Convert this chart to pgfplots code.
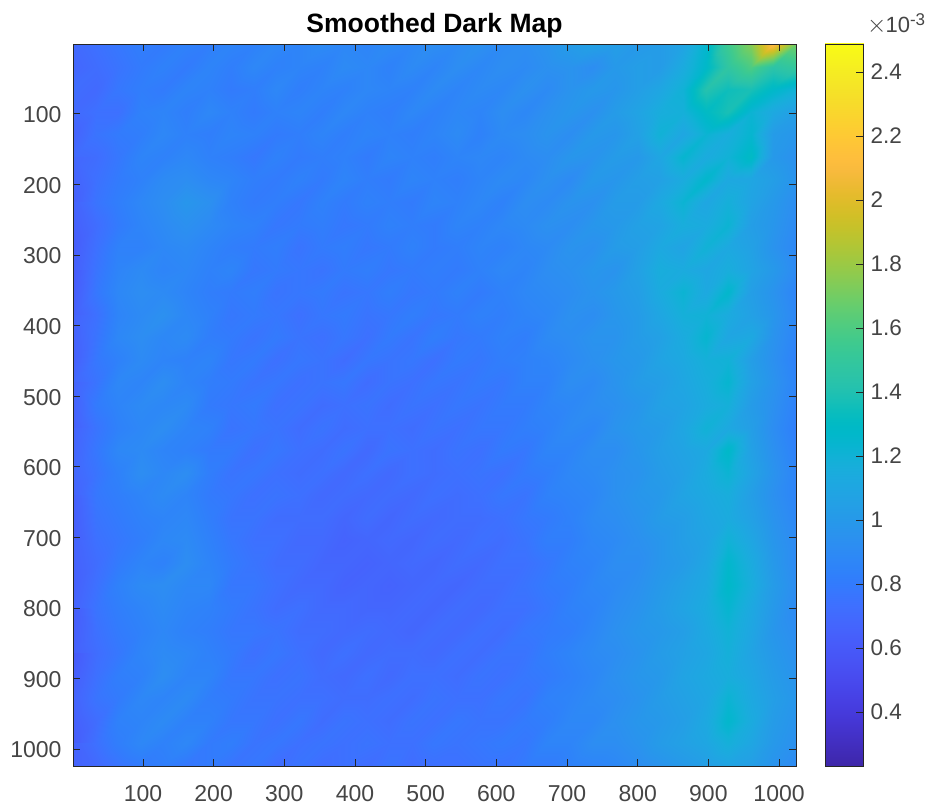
\documentclass[border=0pt]{standalone}
\usepackage{fontspec}
\setmainfont{Liberation Sans}
\usepackage{pgfplots}
\pgfplotsset{compat=1.18}
\definecolor{axc}{rgb}{0.15,0.15,0.15}
\definecolor{txc}{rgb}{0.27,0.27,0.27}
\pgfplotsset{colormap={parula}{
rgb=(0.2422,0.1504,0.6603) rgb=(0.2504,0.1650,0.7076) rgb=(0.2578,0.1818,0.7511) rgb=(0.2647,0.1978,0.7952)
rgb=(0.2706,0.2147,0.8364) rgb=(0.2751,0.2342,0.8710) rgb=(0.2783,0.2559,0.8991) rgb=(0.2803,0.2782,0.9221)
rgb=(0.2813,0.3006,0.9414) rgb=(0.2810,0.3228,0.9579) rgb=(0.2795,0.3447,0.9717) rgb=(0.2760,0.3667,0.9829)
rgb=(0.2699,0.3892,0.9906) rgb=(0.2602,0.4123,0.9952) rgb=(0.2440,0.4358,0.9988) rgb=(0.2206,0.4603,0.9973)
rgb=(0.1963,0.4847,0.9892) rgb=(0.1834,0.5074,0.9798) rgb=(0.1786,0.5289,0.9682) rgb=(0.1764,0.5499,0.9520)
rgb=(0.1687,0.5703,0.9359) rgb=(0.1540,0.5902,0.9218) rgb=(0.1460,0.6091,0.9079) rgb=(0.1380,0.6276,0.8973)
rgb=(0.1248,0.6459,0.8883) rgb=(0.1113,0.6635,0.8763) rgb=(0.0952,0.6798,0.8598) rgb=(0.0689,0.6948,0.8394)
rgb=(0.0297,0.7082,0.8163) rgb=(0.0036,0.7203,0.7917) rgb=(0.0067,0.7312,0.7660) rgb=(0.0433,0.7411,0.7394)
rgb=(0.0964,0.7500,0.7120) rgb=(0.1408,0.7584,0.6842) rgb=(0.1717,0.7670,0.6554) rgb=(0.1938,0.7758,0.6251)
rgb=(0.2161,0.7843,0.5923) rgb=(0.2470,0.7918,0.5567) rgb=(0.2906,0.7973,0.5188) rgb=(0.3406,0.8008,0.4789)
rgb=(0.3909,0.8029,0.4354) rgb=(0.4456,0.8024,0.3909) rgb=(0.5044,0.7993,0.3480) rgb=(0.5616,0.7942,0.3045)
rgb=(0.6174,0.7876,0.2612) rgb=(0.6720,0.7793,0.2227) rgb=(0.7242,0.7698,0.1910) rgb=(0.7738,0.7598,0.1646)
rgb=(0.8203,0.7498,0.1535) rgb=(0.8634,0.7406,0.1596) rgb=(0.9035,0.7330,0.1774) rgb=(0.9393,0.7288,0.2100)
rgb=(0.9728,0.7298,0.2394) rgb=(0.9956,0.7434,0.2371) rgb=(0.9970,0.7659,0.2199) rgb=(0.9952,0.7893,0.2028)
rgb=(0.9892,0.8136,0.1885) rgb=(0.9786,0.8386,0.1766) rgb=(0.9676,0.8639,0.1643) rgb=(0.9610,0.8890,0.1537)
rgb=(0.9597,0.9135,0.1423) rgb=(0.9628,0.9373,0.1265) rgb=(0.9691,0.9606,0.1064) rgb=(0.9769,0.9839,0.0805)}}
\begin{document}
\begin{tikzpicture}[x=1pt,y=1pt]
\path[use as bounding box] (-73,-42) rectangle (853,766);
\begin{axis}[
  at={(0,0)}, anchor=south west,
  scale only axis, width=723pt, height=722pt,
  xmin=1, xmax=1024, ymin=1, ymax=1024, y dir=reverse,
  axis on top, colormap name=parula,
  point meta min=0.231, point meta max=2.4875,
  xtick={100,200,...,1000}, ytick={100,200,...,1000},
  tick align=inside, major tick length=7pt,
  tick style={axc,line width=0.8pt}, axis line style={axc,line width=0.9pt},
  tick label style={font=\fontsize{23}{23}\selectfont,text=txc},
  /pgf/number format/assume math mode=true,
  /pgf/number format/set thousands separator={},
  xticklabel style={yshift=-16pt}, yticklabel style={xshift=-8pt,yshift=-1pt},
  title={\fontsize{26.5}{28}\selectfont\bfseries Smoothed Dark Map},
  title style={at={(0.5,1)},anchor=south,yshift=-4pt,text=black},
]
\addplot[surf,shader=interp,mesh/cols=33,point meta=\thisrowno{0}] table[header=false,row sep=\\,
  x expr={mod(\coordindex,33)*1023/32+1}, y expr={floor(\coordindex/33)*1023/32+1}] {
0.70\\0.74\\0.78\\0.82\\0.80\\0.84\\0.82\\0.86\\0.84\\0.88\\0.86\\0.90\\0.88\\0.86\\0.90\\0.88\\0.92\\0.90\\0.94\\0.90\\0.92\\0.96\\1.02\\1.06\\1.04\\1.00\\1.02\\1.08\\1.25\\1.55\\1.75\\2.15\\1.70\\
0.68\\0.72\\0.76\\0.80\\0.84\\0.80\\0.86\\0.82\\0.88\\0.84\\0.86\\0.84\\0.90\\0.88\\0.84\\0.90\\0.86\\0.92\\0.88\\0.92\\0.90\\0.94\\0.96\\0.92\\1.00\\1.04\\1.02\\1.14\\1.28\\1.48\\1.60\\1.45\\1.50\\
0.72\\0.70\\0.78\\0.82\\0.80\\0.86\\0.84\\0.80\\0.82\\0.88\\0.82\\0.86\\0.84\\0.88\\0.86\\0.84\\0.90\\0.86\\0.90\\0.88\\0.94\\0.90\\0.96\\1.00\\0.98\\1.04\\1.10\\1.20\\1.42\\1.35\\1.38\\1.28\\1.20\\
0.70\\0.74\\0.74\\0.84\\0.86\\0.82\\0.88\\0.84\\0.80\\0.84\\0.86\\0.82\\0.88\\0.84\\0.82\\0.88\\0.84\\0.88\\0.86\\0.92\\0.88\\0.94\\0.98\\0.94\\1.02\\1.08\\1.16\\1.18\\1.30\\1.38\\1.22\\1.12\\1.04\\
0.66\\0.76\\0.80\\0.82\\0.88\\0.84\\0.82\\0.86\\0.84\\0.80\\0.82\\0.86\\0.82\\0.86\\0.84\\0.82\\0.86\\0.90\\0.84\\0.90\\0.92\\0.96\\0.92\\1.00\\0.98\\1.06\\1.20\\1.10\\1.22\\1.16\\1.24\\1.02\\0.98\\
0.70\\0.72\\0.78\\0.86\\0.84\\0.88\\0.84\\0.82\\0.78\\0.84\\0.80\\0.82\\0.84\\0.80\\0.86\\0.84\\0.82\\0.86\\0.88\\0.86\\0.90\\0.92\\0.98\\0.96\\1.02\\1.00\\1.10\\1.24\\1.14\\1.20\\1.30\\1.00\\0.94\\
0.68\\0.74\\0.80\\0.84\\0.90\\0.92\\0.88\\0.86\\0.82\\0.80\\0.84\\0.80\\0.86\\0.82\\0.80\\0.86\\0.84\\0.82\\0.86\\0.90\\0.88\\0.94\\0.90\\1.00\\0.98\\1.04\\1.06\\1.14\\1.26\\1.12\\1.10\\1.04\\0.96\\
0.64\\0.76\\0.82\\0.88\\0.92\\0.98\\0.94\\0.84\\0.80\\0.82\\0.78\\0.84\\0.80\\0.84\\0.82\\0.80\\0.86\\0.84\\0.88\\0.84\\0.92\\0.90\\0.96\\0.94\\1.02\\1.02\\1.12\\1.22\\1.10\\1.18\\1.08\\1.00\\0.92\\
0.66\\0.72\\0.80\\0.86\\0.90\\0.94\\0.90\\0.86\\0.84\\0.78\\0.80\\0.82\\0.78\\0.80\\0.84\\0.82\\0.80\\0.86\\0.84\\0.88\\0.90\\0.94\\0.92\\0.98\\1.00\\1.06\\1.08\\1.16\\1.14\\1.22\\1.04\\0.98\\0.90\\
0.62\\0.74\\0.84\\0.84\\0.88\\0.90\\0.86\\0.82\\0.80\\0.82\\0.76\\0.80\\0.82\\0.78\\0.80\\0.84\\0.80\\0.82\\0.86\\0.84\\0.88\\0.90\\0.96\\0.94\\1.02\\1.04\\1.12\\1.08\\1.20\\1.12\\1.06\\0.96\\0.88\\
0.64\\0.76\\0.86\\0.90\\0.86\\0.88\\0.84\\0.86\\0.78\\0.80\\0.78\\0.76\\0.80\\0.82\\0.78\\0.80\\0.82\\0.80\\0.84\\0.88\\0.86\\0.92\\0.94\\0.98\\0.96\\1.06\\1.16\\1.14\\1.10\\1.16\\1.08\\1.00\\0.90\\
0.60\\0.78\\0.88\\0.92\\0.90\\0.86\\0.82\\0.80\\0.82\\0.76\\0.78\\0.80\\0.76\\0.78\\0.82\\0.78\\0.80\\0.84\\0.80\\0.84\\0.88\\0.90\\0.92\\0.96\\1.00\\1.04\\1.14\\1.22\\1.12\\1.26\\1.04\\0.96\\0.86\\
0.64\\0.74\\0.86\\0.90\\0.94\\0.88\\0.84\\0.78\\0.80\\0.78\\0.74\\0.78\\0.80\\0.76\\0.78\\0.82\\0.78\\0.80\\0.84\\0.82\\0.86\\0.88\\0.94\\0.92\\0.98\\1.02\\1.10\\1.18\\1.20\\1.14\\1.06\\0.98\\0.88\\
0.66\\0.76\\0.88\\0.92\\0.88\\0.90\\0.82\\0.80\\0.76\\0.80\\0.76\\0.74\\0.78\\0.74\\0.80\\0.76\\0.82\\0.78\\0.80\\0.84\\0.82\\0.90\\0.92\\0.96\\0.96\\1.02\\1.06\\1.14\\1.24\\1.10\\1.12\\0.96\\0.86\\
0.64\\0.78\\0.84\\0.90\\0.86\\0.84\\0.86\\0.78\\0.80\\0.74\\0.78\\0.76\\0.72\\0.78\\0.76\\0.78\\0.74\\0.80\\0.78\\0.82\\0.84\\0.86\\0.90\\0.94\\0.98\\1.00\\1.08\\1.12\\1.18\\1.20\\1.04\\0.94\\0.84\\
0.68\\0.76\\0.88\\0.86\\0.92\\0.86\\0.82\\0.80\\0.76\\0.78\\0.74\\0.76\\0.78\\0.72\\0.76\\0.74\\0.78\\0.76\\0.80\\0.78\\0.84\\0.84\\0.92\\0.90\\0.96\\1.02\\1.04\\1.10\\1.16\\1.24\\1.06\\0.96\\0.86\\
0.66\\0.80\\0.86\\0.90\\0.88\\0.90\\0.80\\0.78\\0.80\\0.74\\0.76\\0.72\\0.74\\0.76\\0.72\\0.76\\0.74\\0.78\\0.76\\0.80\\0.80\\0.86\\0.88\\0.92\\0.94\\0.98\\1.06\\1.08\\1.14\\1.18\\1.02\\0.94\\0.84\\
0.64\\0.76\\0.84\\0.88\\0.92\\0.86\\0.84\\0.76\\0.78\\0.76\\0.72\\0.76\\0.72\\0.74\\0.74\\0.72\\0.76\\0.74\\0.78\\0.78\\0.82\\0.84\\0.90\\0.88\\0.96\\1.00\\1.02\\1.10\\1.20\\1.12\\1.04\\0.92\\0.82\\
0.66\\0.78\\0.88\\0.90\\0.86\\0.84\\0.80\\0.80\\0.74\\0.78\\0.74\\0.72\\0.76\\0.70\\0.76\\0.74\\0.72\\0.76\\0.74\\0.80\\0.78\\0.86\\0.86\\0.92\\0.92\\0.98\\1.04\\1.08\\1.12\\1.28\\1.06\\0.94\\0.84\\
0.68\\0.76\\0.84\\0.92\\0.88\\0.92\\0.82\\0.76\\0.78\\0.74\\0.72\\0.74\\0.70\\0.74\\0.70\\0.74\\0.72\\0.74\\0.76\\0.74\\0.80\\0.82\\0.88\\0.90\\0.94\\0.96\\1.02\\1.06\\1.14\\1.22\\1.08\\0.96\\0.86\\
0.66\\0.78\\0.82\\0.86\\0.90\\0.86\\0.80\\0.78\\0.74\\0.76\\0.74\\0.70\\0.72\\0.70\\0.72\\0.70\\0.74\\0.72\\0.74\\0.78\\0.76\\0.84\\0.86\\0.88\\0.94\\0.98\\1.00\\1.08\\1.12\\1.16\\1.04\\0.94\\0.86\\
0.64\\0.76\\0.80\\0.84\\0.86\\0.88\\0.82\\0.76\\0.76\\0.72\\0.72\\0.72\\0.68\\0.72\\0.68\\0.72\\0.70\\0.72\\0.72\\0.74\\0.78\\0.80\\0.84\\0.90\\0.92\\0.96\\1.02\\1.04\\1.10\\1.14\\1.06\\0.96\\0.88\\
0.62\\0.74\\0.78\\0.82\\0.88\\0.90\\0.84\\0.78\\0.74\\0.74\\0.70\\0.70\\0.66\\0.68\\0.70\\0.68\\0.72\\0.70\\0.74\\0.72\\0.76\\0.82\\0.82\\0.88\\0.90\\0.94\\0.98\\1.04\\1.08\\1.20\\1.10\\0.98\\0.90\\
0.66\\0.72\\0.80\\0.86\\0.84\\0.92\\0.86\\0.80\\0.76\\0.72\\0.72\\0.68\\0.68\\0.66\\0.68\\0.70\\0.68\\0.72\\0.70\\0.74\\0.74\\0.78\\0.84\\0.86\\0.92\\0.92\\0.98\\1.02\\1.10\\1.26\\1.14\\1.00\\0.90\\
0.64\\0.74\\0.84\\0.90\\0.92\\0.88\\0.88\\0.78\\0.78\\0.74\\0.70\\0.70\\0.66\\0.68\\0.66\\0.68\\0.70\\0.68\\0.72\\0.72\\0.76\\0.80\\0.82\\0.88\\0.90\\0.94\\1.00\\1.06\\1.12\\1.28\\1.16\\1.02\\0.92\\
0.66\\0.76\\0.82\\0.86\\0.90\\0.86\\0.84\\0.80\\0.76\\0.72\\0.74\\0.70\\0.70\\0.68\\0.68\\0.70\\0.68\\0.72\\0.70\\0.74\\0.74\\0.78\\0.84\\0.86\\0.92\\0.96\\1.02\\1.08\\1.14\\1.24\\1.12\\1.00\\0.90\\
0.62\\0.74\\0.80\\0.84\\0.88\\0.84\\0.82\\0.78\\0.78\\0.76\\0.72\\0.72\\0.70\\0.72\\0.70\\0.68\\0.72\\0.70\\0.74\\0.72\\0.78\\0.80\\0.82\\0.88\\0.94\\0.98\\1.00\\1.04\\1.12\\1.20\\1.10\\0.98\\0.92\\
0.64\\0.72\\0.78\\0.86\\0.90\\0.88\\0.84\\0.80\\0.74\\0.78\\0.74\\0.70\\0.74\\0.70\\0.72\\0.72\\0.70\\0.74\\0.72\\0.76\\0.76\\0.82\\0.86\\0.90\\0.92\\0.96\\1.02\\1.06\\1.10\\1.18\\1.08\\1.00\\0.94\\
0.60\\0.74\\0.82\\0.84\\0.92\\0.86\\0.86\\0.78\\0.78\\0.74\\0.76\\0.72\\0.70\\0.74\\0.70\\0.74\\0.74\\0.72\\0.76\\0.74\\0.78\\0.80\\0.84\\0.88\\0.94\\0.98\\1.00\\1.08\\1.12\\1.16\\1.10\\1.02\\0.96\\
0.66\\0.76\\0.80\\0.88\\0.86\\0.90\\0.82\\0.80\\0.76\\0.76\\0.74\\0.74\\0.72\\0.72\\0.74\\0.72\\0.76\\0.74\\0.74\\0.78\\0.76\\0.84\\0.86\\0.90\\0.92\\0.96\\1.02\\1.06\\1.10\\1.22\\1.12\\1.04\\0.98\\
0.64\\0.72\\0.84\\0.86\\0.90\\0.84\\0.84\\0.78\\0.78\\0.74\\0.78\\0.72\\0.76\\0.74\\0.72\\0.76\\0.74\\0.78\\0.76\\0.76\\0.80\\0.82\\0.88\\0.88\\0.94\\0.98\\1.00\\1.04\\1.12\\1.26\\1.14\\1.02\\0.96\\
0.62\\0.74\\0.82\\0.88\\0.84\\0.88\\0.80\\0.82\\0.76\\0.78\\0.74\\0.76\\0.74\\0.76\\0.74\\0.74\\0.78\\0.76\\0.78\\0.80\\0.78\\0.86\\0.86\\0.92\\0.92\\0.96\\1.02\\1.06\\1.10\\1.18\\1.10\\1.00\\0.94\\
0.66\\0.70\\0.76\\0.80\\0.82\\0.78\\0.80\\0.76\\0.78\\0.72\\0.76\\0.72\\0.74\\0.72\\0.76\\0.72\\0.74\\0.74\\0.76\\0.76\\0.80\\0.80\\0.84\\0.86\\0.88\\0.92\\0.96\\1.00\\1.04\\1.08\\1.04\\0.96\\0.90\\
0.66\\0.70\\0.76\\0.80\\0.82\\0.78\\0.80\\0.76\\0.78\\0.72\\0.76\\0.72\\0.74\\0.72\\0.76\\0.72\\0.74\\0.74\\0.76\\0.76\\0.80\\0.80\\0.84\\0.86\\0.88\\0.92\\0.96\\1.00\\1.04\\1.08\\1.04\\0.96\\0.90\\
};
\end{axis}
\begin{axis}[
  at={(752pt,0)}, anchor=south west,
  scale only axis, width=38pt, height=722pt,
  xmin=0, xmax=1, ymin=0.231, ymax=2.4875,
  axis on top, colormap name=parula,
  point meta min=0.231, point meta max=2.4875,
  xtick=\empty, ytick={0.4,0.6,...,2.41}, ytick pos=right, yticklabel pos=right,
  tick align=inside, major tick length=7pt,
  tick style={axc,line width=0.8pt}, axis line style={axc,line width=0.9pt},
  yticklabel style={font=\fontsize{22.5}{23}\selectfont,text=txc,xshift=4pt,
    /pgf/number format/fixed,/pgf/number format/precision=1,/pgf/number format/assume math mode=true},
]
\addplot[surf,shader=interp,mesh/cols=2,point meta=\thisrowno{1}] table[header=false,row sep=\\,
  x expr={mod(\coordindex,2)}, y index=0] {
0.231 0.231\\0.231 0.231\\0.30 0.30\\0.30 0.30\\0.37 0.37\\0.37 0.37\\0.44 0.44\\0.44 0.44\\0.51 0.51\\0.51 0.51\\
0.58 0.58\\0.58 0.58\\0.65 0.65\\0.65 0.65\\0.72 0.72\\0.72 0.72\\0.79 0.79\\0.79 0.79\\0.86 0.86\\0.86 0.86\\
0.93 0.93\\0.93 0.93\\1.00 1.00\\1.00 1.00\\1.07 1.07\\1.07 1.07\\1.14 1.14\\1.14 1.14\\1.21 1.21\\1.21 1.21\\
1.28 1.28\\1.28 1.28\\1.35 1.35\\1.35 1.35\\1.42 1.42\\1.42 1.42\\1.49 1.49\\1.49 1.49\\1.56 1.56\\1.56 1.56\\
1.63 1.63\\1.63 1.63\\1.70 1.70\\1.70 1.70\\1.77 1.77\\1.77 1.77\\1.84 1.84\\1.84 1.84\\1.91 1.91\\1.91 1.91\\
1.98 1.98\\1.98 1.98\\2.05 2.05\\2.05 2.05\\2.12 2.12\\2.12 2.12\\2.19 2.19\\2.19 2.19\\2.26 2.26\\2.26 2.26\\
2.33 2.33\\2.33 2.33\\2.40 2.40\\2.40 2.40\\2.4875 2.4875\\2.4875 2.4875\\2.60 2.4875\\2.60 2.4875\\
};
\end{axis}
\node[anchor=west,text=txc,inner sep=0pt] at (794,742) {\fontsize{26}{26}\selectfont$\times$\kern-1pt\fontsize{22}{22}\selectfont 10\raisebox{7pt}{\fontsize{17}{17}\selectfont -3}};
\end{tikzpicture}
\end{document}
